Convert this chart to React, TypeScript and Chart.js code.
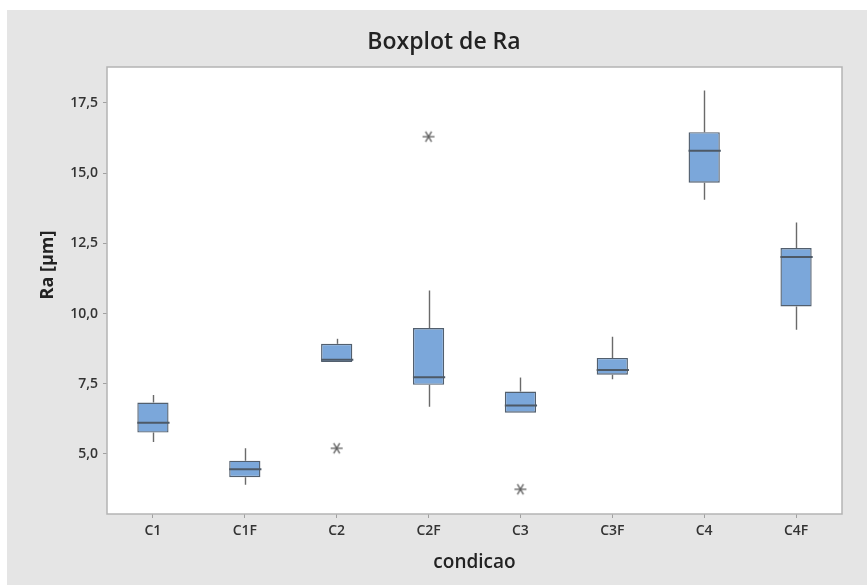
import { Chart, registerables, type Plugin } from "chart.js";
import * as React from "react";

Chart.register(...registerables);

const categories = ["C1", "C1F", "C2", "C2F", "C3", "C3F", "C4", "C4F"];
const whiskerLow = [5.42, 3.9, 8.27, 6.68, 6.47, 7.66, 14.05, 9.42];
const quartile1 = [5.76, 4.17, 8.27, 7.46, 6.47, 7.82, 14.66, 10.25];
const medians = [6.11, 4.45, 8.35, 7.73, 6.72, 7.99, 15.8, 12.01];
const quartile3 = [6.83, 4.76, 8.92, 9.48, 7.22, 8.42, 16.46, 12.33];
const whiskerHigh = [7.1, 5.2, 9.1, 10.82, 7.72, 9.17, 17.94, 13.24];
const outliers = [null, null, 5.2, 16.3, 3.74, null, null, null];
const yTicks = [5, 7.5, 10, 12.5, 15, 17.5];

const FONT = "'Open Sans', 'Noto Sans', sans-serif";

// asterisco de 6 braços, como no Minitab
function makeAsterisk() {
  const c = document.createElement("canvas");
  c.width = 14;
  c.height = 14;
  const ctx = c.getContext("2d")!;
  ctx.strokeStyle = "#606060";
  ctx.lineWidth = 1.3;
  const r = 6;
  [0, Math.PI / 3, (2 * Math.PI) / 3].forEach((a) => {
    ctx.beginPath();
    ctx.moveTo(7 - r * Math.cos(a), 7 - r * Math.sin(a));
    ctx.lineTo(7 + r * Math.cos(a), 7 + r * Math.sin(a));
    ctx.stroke();
  });
  return c;
}

const boxPlotPlugin: Plugin = {
  id: "boxPlot",
  beforeDraw(chart) {
    const { ctx, chartArea } = chart;
    ctx.save();
    ctx.fillStyle = "#ffffff";
    ctx.fillRect(chartArea.left, chartArea.top, chartArea.width, chartArea.height);
    ctx.restore();
  },
  beforeDatasetsDraw(chart) {
    // bigodes
    const { ctx } = chart;
    const y = chart.scales.y;
    const bars = chart.getDatasetMeta(0).data;
    ctx.save();
    ctx.strokeStyle = "#6a6a6a";
    ctx.lineWidth = 1.4;
    bars.forEach((bar, i) => {
      const x = Math.round(bar.x) + 0.5;
      ctx.beginPath();
      ctx.moveTo(x, y.getPixelForValue(whiskerHigh[i]));
      ctx.lineTo(x, y.getPixelForValue(quartile3[i]));
      ctx.moveTo(x, y.getPixelForValue(quartile1[i]));
      ctx.lineTo(x, y.getPixelForValue(whiskerLow[i]));
      ctx.stroke();
    });
    ctx.restore();
  },
  afterDatasetsDraw(chart) {
    // medianas
    const { ctx } = chart;
    const y = chart.scales.y;
    const bars = chart.getDatasetMeta(0).data as any[];
    ctx.save();
    ctx.strokeStyle = "#4d5966";
    ctx.lineWidth = 2;
    bars.forEach((bar, i) => {
      const py = y.getPixelForValue(medians[i]);
      ctx.beginPath();
      ctx.moveTo(bar.x - bar.width / 2, py);
      ctx.lineTo(bar.x + bar.width / 2 + 1, py);
      ctx.stroke();
    });
    ctx.restore();
  },
  afterDraw(chart) {
    const { ctx, chartArea } = chart;
    ctx.save();
    ctx.strokeStyle = "#b4b4b4";
    ctx.lineWidth = 1.5;
    ctx.strokeRect(chartArea.left, chartArea.top, chartArea.width, chartArea.height);
    ctx.fillStyle = "#222222";
    ctx.textAlign = "center";
    ctx.textBaseline = "middle";
    // título do gráfico
    ctx.font = `600 23px ${FONT}`;
    ctx.fillText("Boxplot de Ra", 437, 32);
    // título do eixo Y
    ctx.translate(41, 255);
    ctx.rotate(-Math.PI / 2);
    ctx.font = `bold 18px ${FONT}`;
    ctx.fillText("Ra [µm]", 0, 0);
    ctx.restore();
  },
};

export default function App() {
  const canvasRef = React.useRef<HTMLCanvasElement>(null);

  React.useEffect(() => {
    if (!canvasRef.current) return;
    const chart = new Chart(canvasRef.current, {
      type: "bar",
      data: {
        labels: categories,
        datasets: [
          {
            data: quartile1.map((q, i) => [q, quartile3[i]]),
            backgroundColor: "#7ba7da",
            borderColor: "#525f6e",
            borderWidth: 1.4,
            borderSkipped: false,
            categoryPercentage: 1,
            barPercentage: 0.34,
          },
          {
            type: "line",
            data: outliers,
            showLine: false,
            pointStyle: makeAsterisk(),
            pointRadius: 7,
          } as any,
        ],
      },
      options: {
        animation: false,
        responsive: false,
        layout: { padding: { top: 57, right: 25, left: 0, bottom: 0 } },
        plugins: {
          legend: { display: false },
          tooltip: { enabled: false },
          title: { display: false },
        },
        scales: {
          x: {
            afterFit: (scale) => {
              scale.height = 71;
            },
            grid: {
              display: true,
              offset: false,
              drawOnChartArea: false,
              tickLength: 4,
              color: "#a0a0a0",
            },
            border: { display: false },
            ticks: {
              color: "#333333",
              padding: 5,
              font: { family: FONT, size: 14, weight: 600 },
            },
            title: {
              display: true,
              text: "condicao",
              color: "#222222",
              font: { family: FONT, size: 19, weight: 600, lineHeight: 1.2 },
              padding: { top: 0, bottom: 11 },
            },
          },
          y: {
            min: 2.86,
            max: 18.78,
            afterFit: (scale) => {
              scale.width = 100;
            },
            afterBuildTicks: (scale) => {
              scale.ticks = yTicks.map((v) => ({ value: v }));
            },
            grid: {
              display: true,
              drawOnChartArea: false,
              tickLength: 4,
              color: "#a0a0a0",
            },
            border: { display: false },
            ticks: {
              color: "#333333",
              padding: 5,
              font: { family: FONT, size: 14, weight: 600 },
              callback: (v) => Number(v).toFixed(1).replace(".", ","),
            },
          },
        },
      },
      plugins: [boxPlotPlugin],
    });
    return () => chart.destroy();
  }, []);

  return (
    <div
      style={{
        position: "absolute",
        left: 7,
        top: 10,
        width: 860,
        height: 575,
        background: "#e5e5e5",
      }}
    >
      <canvas ref={canvasRef} width={860} height={575} style={{ width: 860, height: 575 }} />
    </div>
  );
}
